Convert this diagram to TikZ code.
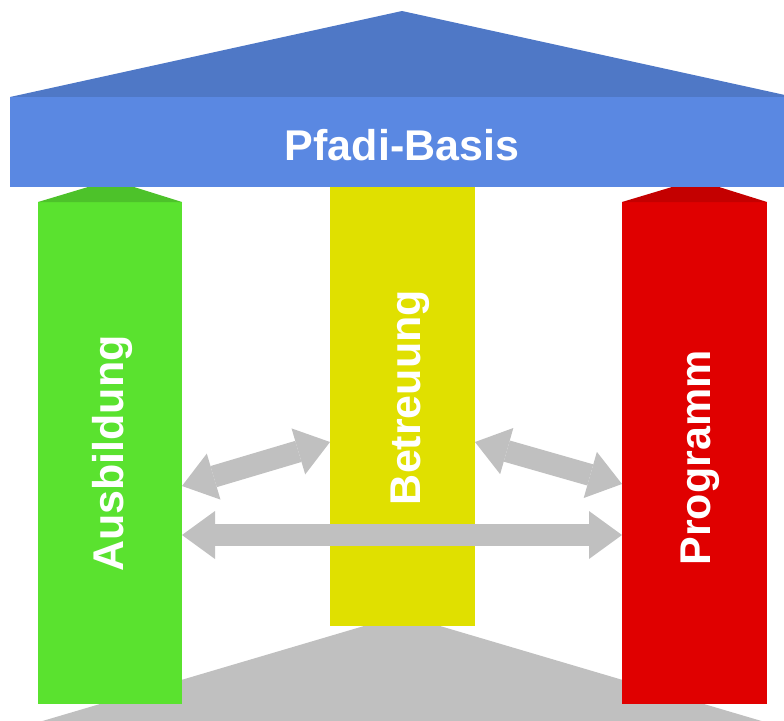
\documentclass[tikz,border=0pt]{standalone}
\usepackage{fontspec}
\setmainfont{Liberation Sans}
\usetikzlibrary{arrows.meta,calc}
\definecolor{roofc}{HTML}{4F78C6}
\definecolor{bandc}{HTML}{5A88E2}
\definecolor{greenc}{HTML}{5AE22F}
\definecolor{greencap}{HTML}{4DC22A}
\definecolor{yellowc}{HTML}{E0E000}
\definecolor{redc}{HTML}{E00000}
\definecolor{redcap}{HTML}{C40000}
\definecolor{grayc}{HTML}{C0C0C0}
\tikzset{
  colbox/.style={rectangle, inner sep=0pt, outer sep=0pt, draw=none},
  lbl/.style={text=white, font=\bfseries\fontsize{43}{50}\selectfont, inner sep=0pt, anchor=base},
  dblarrow/.style={draw=grayc, line width=22pt,
    {Triangle[width=48pt,length=33pt,line width=0pt]}-{Triangle[width=48pt,length=33pt,line width=0pt]}}
}
\begin{document}
\begin{tikzpicture}[x=1pt,y=-1pt]
\useasboundingbox (0,0) rectangle (784,720);
\clip (0,0) rectangle (784,720);
% base
\fill[grayc] (364,626) -- (440,626) -- (792,730) -- (12,730) -- cycle;
% columns
\node[colbox, fill=greenc, minimum width=144pt, minimum height=502pt] (aus) at (110,453) {};
\node[colbox, fill=yellowc, minimum width=145pt, minimum height=439pt] (bet) at (402.5,406.5) {};
\node[colbox, fill=redc, minimum width=145pt, minimum height=502pt] (pro) at (694.5,453) {};
% caps
\fill[greencap] (aus.north west) -- (88,187) -- (134,187) -- (aus.north east) -- cycle;
\fill[redcap] (pro.north west) -- (672,187) -- (719,187) -- (pro.north east) -- cycle;
% roof and band
\fill[roofc] (10,97) -- (402,11) -- (794,97) -- cycle;
\node[colbox, fill=bandc, minimum width=784pt, minimum height=90pt, anchor=north west] (band) at (10,97) {};
% arrows
\coordinate (a1) at ([yshift=-33pt]aus.east);
\coordinate (b1) at ([yshift=-35.5pt]bet.west);
\coordinate (b2) at ([yshift=-35.5pt]bet.east);
\coordinate (p1) at ([yshift=-31pt]pro.west);
\coordinate (a2) at ([yshift=-82pt]aus.east);
\coordinate (p2) at ([yshift=-82pt]pro.west);
\draw[dblarrow] (a1) -- (b1);
\draw[dblarrow] (b2) -- (p1);
\draw[dblarrow] (a2) -- (p2);
% labels
\node[lbl] (t0) at (402,160) {Pfadi-Basis};
\node[lbl, rotate=90] (t1) at (123,453.5) {Ausbildung};
\node[lbl, rotate=90] (t2) at (420,397.5) {Betreuung};
\node[lbl, rotate=90] (t3) at (710,458) {Programm};
\end{tikzpicture}
\end{document}
